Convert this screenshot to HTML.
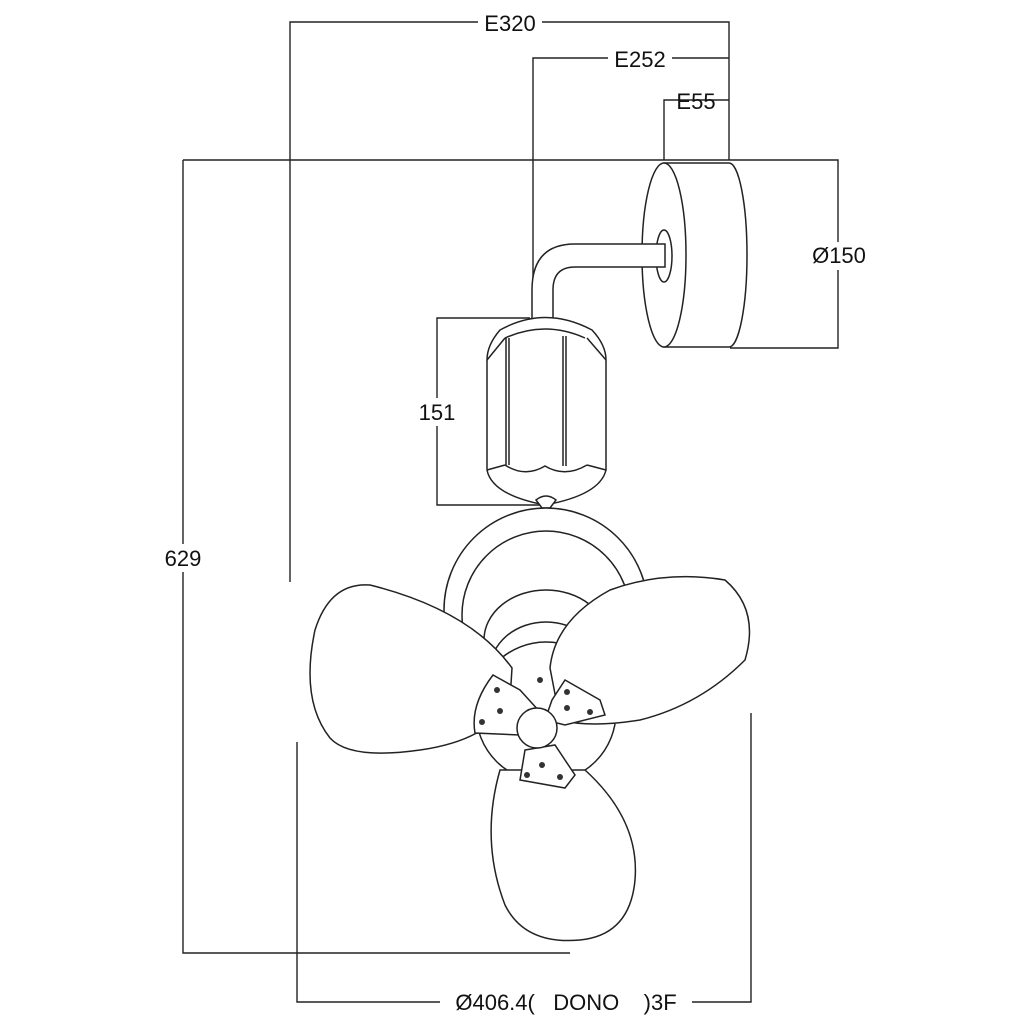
<!DOCTYPE html>
<html><head><style>
html,body{margin:0;padding:0;background:#fff;}
svg{display:block;}
text{font-family:"Liberation Sans",Arial,sans-serif;font-size:22px;fill:#111;white-space:pre;}
</style></head><body>
<svg width="1024" height="1024" viewBox="0 0 1024 1024" xmlns="http://www.w3.org/2000/svg">
<g fill="none" stroke="#222" stroke-width="1.4">
<path d="M290 582V22H729V160"/>
<path d="M533 300V58H729"/>
<path d="M664 160V100H729"/>
<path d="M183 160H838V348H730"/>
<path d="M183 160V953H570"/>
<path d="M530 318H437V505H540"/>
<path d="M297 742V1002H440M692 1002H751V713"/>
</g>
<g fill="#fff" stroke="#222" stroke-width="1.5">
<path d="M664 163H729A18 92 0 0 1 729 347H664Z"/>
<ellipse cx="664" cy="255" rx="22" ry="92"/>
<ellipse cx="664" cy="256" rx="8" ry="26" fill="none"/>
<path d="M665 244H575Q532 244 532 290V320H553V290Q553 267 575 267H665Z"/>
<path d="M500 330Q545 305 592 330Q606 345 606 360V470Q600 495 545 505Q492 495 487 470V360Q487 345 500 330Z"/>
<path d="M505 338Q545 320 585 338M505 465Q525 478 545 466Q565 478 587 465" fill="none"/>
<path d="M506 338V465M509 338V465M563 336V466M566 336V466" fill="none"/>
<path d="M487 360L505 338M606 360L587 338M487 470L505 465M606 470L587 465" fill="none"/>
<path d="M536 500Q546 492 556 500L550 508H542Z"/>
<circle cx="546" cy="610" r="102"/>
<circle cx="546" cy="615" r="84"/>
<ellipse cx="546" cy="640" rx="62" ry="50"/>
<ellipse cx="546" cy="670" rx="56" ry="48"/>
<circle cx="546" cy="712" r="70"/>
<path d="M512 668Q470 610 370 585Q330 582 315 630Q300 700 330 738Q350 760 420 750Q490 740 510 700Z"/>
<path d="M550 668Q555 620 610 590Q665 570 725 580Q760 610 745 660Q700 705 640 720Q590 728 560 720Z"/>
<path d="M500 770Q480 840 505 905Q525 945 580 940Q630 935 635 880Q640 820 585 770Z"/>
<path d="M493 675L520 690L540 712L520 735L475 733Q470 705 493 675Z"/>
<path d="M565 680L600 700L605 715L565 725L545 720L552 700Z"/>
<path d="M525 750L555 745L575 775L565 788L520 780Z"/>
<circle cx="537" cy="728" r="20"/>
</g>
<g fill="#333">
<circle cx="497" cy="690" r="3"/><circle cx="500" cy="711" r="3"/><circle cx="482" cy="722" r="3"/>
<circle cx="567" cy="692" r="3"/><circle cx="567" cy="708" r="3"/><circle cx="590" cy="712" r="3"/>
<circle cx="542" cy="765" r="3"/><circle cx="527" cy="775" r="3"/><circle cx="560" cy="777" r="3"/>
<circle cx="540" cy="680" r="3"/>
</g>
<g text-anchor="middle">
<rect x="478" y="10" width="64" height="24" fill="#fff"/>
<text x="510" y="31">E320</text>
<rect x="608" y="46" width="64" height="24" fill="#fff"/>
<text x="640" y="67">E252</text>
<text x="696" y="109">E55</text>
<rect x="800" y="242" width="76" height="28" fill="#fff"/>
<text x="839" y="263">Ø150</text>
<rect x="155" y="544" width="56" height="28" fill="#fff"/>
<text x="183" y="566">629</text>
<rect x="412" y="398" width="50" height="28" fill="#fff"/>
<text x="437" y="420">151</text>
<text x="566" y="1010" xml:space="preserve">Ø406.4(   DONO    )3F</text>
</g>
</svg>
</body></html>
